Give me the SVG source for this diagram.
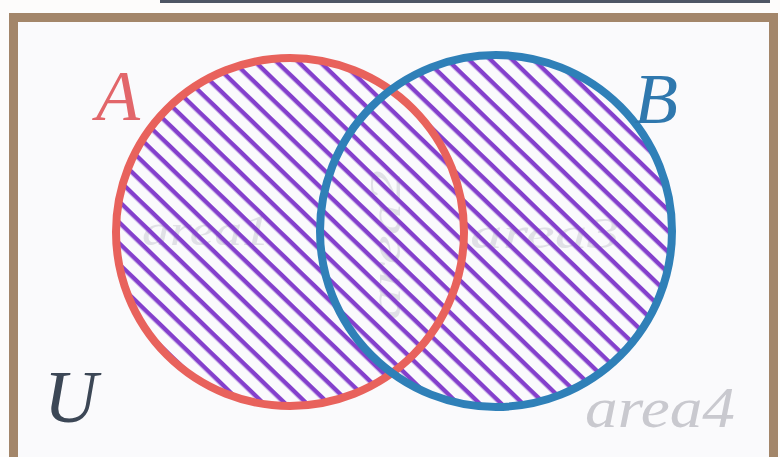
<svg xmlns="http://www.w3.org/2000/svg" width="780" height="457" viewBox="0 0 780 457">
  <style>
    .lbl { font-family: "Liberation Serif", "DejaVu Serif", serif; font-style: italic; }
    .faint { font-family: "Liberation Serif", "DejaVu Serif", serif; font-style: italic; fill: #e0e0e6; font-size: 44px; }
    .ring { fill: none; stroke-width: 8; }
  </style>
  <defs>
    <pattern id="hatch" patternUnits="userSpaceOnUse" width="20" height="15" patternTransform="rotate(44)">
      <rect x="0" y="0" width="20" height="4.4" fill="#8440cc"/>
    </pattern>
    <clipPath id="unionAB">
      <circle cx="290" cy="232" r="174"/>
      <circle cx="496" cy="231" r="176"/>
    </clipPath>
  </defs>

  <rect x="0" y="0" width="780" height="457" fill="#fdfcfb"/>
  <rect x="160" y="0" width="610" height="3" fill="#4e5664"/>

  <g id="universe">
    <rect x="13.5" y="17.5" width="760" height="460" fill="#fafafc" stroke="#a3866a" stroke-width="9"/>
  </g>

  <g id="faint-labels">
    <text class="faint" x="142" y="245" textLength="128" lengthAdjust="spacingAndGlyphs">area1</text>
    <text class="faint" x="470" y="248" textLength="150" lengthAdjust="spacingAndGlyphs">area3</text>
    <text class="faint" x="0" y="0" transform="translate(400,320) rotate(-90)" textLength="150" lengthAdjust="spacingAndGlyphs">area2</text>
  </g>

  <g id="hatching">
    <rect x="100" y="40" width="590" height="390" fill="url(#hatch)" clip-path="url(#unionAB)"/>
  </g>

  <g id="setA">
    <circle class="ring" cx="290" cy="232" r="174" stroke="#e8625c"/>
    <text class="lbl" x="96" y="120" font-size="72" fill="#e2666a">A</text>
  </g>

  <g id="setB">
    <circle class="ring" cx="496" cy="231" r="176" stroke="#2f80b8"/>
    <text class="lbl" x="634" y="123" font-size="72" fill="#2f78ae">B</text>
  </g>

  <g id="labelU">
    <text class="lbl" x="44" y="422" font-size="74" fill="#3c4756">U</text>
  </g>

  <g id="labelArea4">
    <text class="lbl" x="585" y="427" font-size="56" fill="#c9c9cf" textLength="150" lengthAdjust="spacingAndGlyphs">area4</text>
  </g>
</svg>
